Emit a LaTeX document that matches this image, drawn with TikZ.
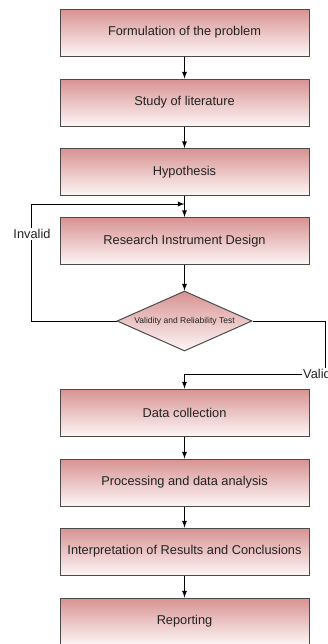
\documentclass[tikz,border=0pt]{standalone}
\usepackage{fontspec}
\setmainfont{Liberation Sans}
\usetikzlibrary{arrows}
\usetikzlibrary{shapes}

\definecolor{pinktop}{RGB}{216,146,146}
\definecolor{pinkbot}{RGB}{253,246,246}
\definecolor{edgegray}{RGB}{75,75,75}
\definecolor{textgray}{RGB}{35,35,35}

\begin{document}
\begin{tikzpicture}[x=0.75pt,y=0.75pt,yscale=-1,xscale=1,
  stepbox/.style={draw=edgegray, line width=0.75pt, top color=pinktop, bottom color=pinkbot,
    minimum width=186.75pt, minimum height=35.25pt, inner sep=0.75pt, text=textgray,
    font=\fontsize{9.6}{11}\selectfont},
  testbox/.style={diamond, aspect=2.25, draw=edgegray, line width=0.75pt, top color=pinktop, bottom color=pinkbot,
    minimum width=101.25pt, minimum height=45pt, inner sep=0pt, text=textgray,
    font=\fontsize{6.4}{7}\selectfont},
  flow/.style={-latex, line width=0.75pt, draw=black},
  edgelabel/.style={fill=white, inner sep=1pt, text=textgray, font=\fontsize{9.6}{11}\selectfont}]
\useasboundingbox (0,0) rectangle (328,644);

% Steps
\node [stepbox] (formul) at (184.5,32.5) {Formulation of the problem};
\node [stepbox] (study) at (184.5,102.5) {Study of literature};
\node [stepbox] (hyp) at (184.5,172) {Hypothesis};
\node [stepbox] (instr) at (184.5,241) {Research Instrument Design};
\node [testbox] (test) at (184.5,321) {Validity and Reliability Test};
\node [stepbox] (collect) at (184.5,412.5) {Data collection};
\node [stepbox] (analysis) at (184.5,482.5) {Processing and data analysis};
\node [stepbox] (interp) at (184.5,551.5) {Interpretation of Results and Conclusions};
\node [stepbox] (report) at (184.5,621.5) {Reporting};

\coordinate (merge) at (184.5,204);

% Main line
\draw [flow] (formul) -- (study);
\draw [flow] (study) -- (hyp);
\draw [flow] (hyp) -- (instr);
\draw [flow] (instr) -- (test);
\draw [flow] (collect) -- (analysis);
\draw [flow] (analysis) -- (interp);
\draw [flow] (interp) -- (report);

% Back to design / on to collection
\draw [flow] (test.west) -| (31,204) -- (merge);
\draw [flow] (test.east) -| (325,374) -| (collect.north);

\node [edgelabel] (invalid) at (32,234) {Invalid};
\node [edgelabel] (valid) at (317,374) {Valid};

\end{tikzpicture}
\end{document}
